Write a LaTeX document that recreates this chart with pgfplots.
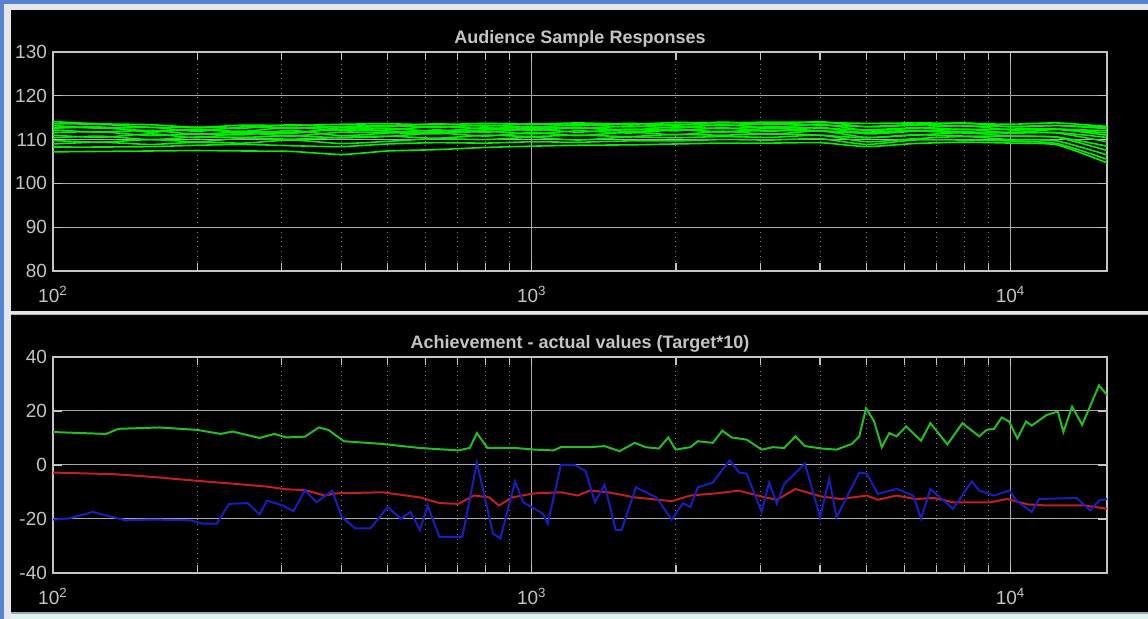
\documentclass[border=0pt]{standalone}
\usepackage{pgfplots}
\pgfplotsset{compat=1.18}
\usepackage{pgfplotstable}
\usepackage{fontspec}
\setmainfont{Liberation Sans}
\definecolor{txt}{HTML}{C4C4C4}
\definecolor{gridc}{HTML}{A8A8A8}
\definecolor{framec}{HTML}{C4C4C4}
\definecolor{topg}{HTML}{00F000}
\definecolor{botg}{HTML}{22BE22}
\definecolor{botr}{HTML}{C41E1E}
\definecolor{botb}{HTML}{1A1EBE}
\definecolor{winblue}{HTML}{5A80D2}
\definecolor{winlight}{HTML}{E4E8EA}
\definecolor{wincyan}{HTML}{DDF3F6}

\pgfplotstableread{
f l1 l2 l3 l4 l5 l6 l7 l8 l9 l10 l11 l12 l13
100 107.2 108.3 109.0 109.8 110.4 111.0 111.6 112.2 112.7 113.2 113.6 114.1 112.6
125 107.3 108.3 109.4 109.4 110.8 110.5 111.8 111.7 112.7 112.6 113.5 113.6 112.9
160 107.4 108.4 108.9 110.0 110.0 111.3 110.9 112.1 112.0 112.8 112.8 113.4 111.7
200 107.5 108.7 109.4 109.5 110.6 110.4 111.3 111.2 112.2 111.9 112.8 112.8 112.4
250 107.4 108.9 109.2 110.3 110.5 111.5 111.1 111.8 111.9 112.9 112.6 113.3 111.6
315 107.3 108.6 109.9 110.1 110.9 110.8 112.1 111.7 112.8 112.6 113.4 113.2 111.4
400 106.6 108.4 109.1 110.5 110.4 111.7 110.9 112.3 112.1 113.0 112.8 113.5 112.7
500 107.4 109.0 109.6 110.8 110.7 111.6 111.5 112.6 112.2 113.2 113.0 113.6 111.9
630 107.7 109.3 110.2 110.3 111.5 111.3 112.2 111.9 113.0 112.8 113.6 113.4 111.6
800 108.2 109.2 110.0 111.0 110.8 111.9 111.7 112.7 112.5 113.3 113.1 113.7 112.2
1000 108.5 109.5 110.5 110.7 111.6 111.3 112.4 112.1 113.0 112.8 113.6 113.5 112.5
1250 108.7 109.4 109.9 111.0 110.9 112.0 111.7 112.7 112.5 113.4 113.2 113.8 112.8
1600 108.8 109.7 110.6 110.7 111.7 111.5 112.4 112.2 113.1 112.9 113.7 113.5 111.8
2000 109.0 109.7 110.4 111.2 111.1 112.2 112.0 112.9 112.7 113.5 113.3 113.9 112.4
2500 109.2 110.0 110.7 111.0 111.9 111.8 112.7 112.5 113.4 113.2 114.0 113.8 111.7
3150 109.2 109.9 110.5 111.3 111.2 112.1 111.9 112.9 112.7 113.6 113.4 114.0 112.6
4000 109.3 110.2 111.0 111.0 112.0 111.9 112.8 112.6 113.5 113.3 114.1 113.9 112.0
5000 108.4 108.9 109.5 110.4 110.5 111.5 111.3 112.2 112.1 113.0 112.9 113.7 111.7
6300 109.1 109.9 110.2 111.1 111.0 112.0 111.9 112.7 112.6 113.4 113.3 113.8 112.1
8000 109.4 109.9 110.7 110.8 111.6 111.5 112.4 112.3 113.2 113.1 113.8 113.7 111.8
10000 109.2 109.7 110.0 110.8 110.8 111.7 111.5 112.4 112.2 113.0 112.9 113.5 111.5
12500 108.8 109.1 109.7 110.5 110.6 111.5 111.6 112.4 112.4 113.2 113.2 113.8 112.3
15900 104.7 105.5 106.5 107.5 108.5 109.5 110.5 111.5 112.0 112.5 112.8 113.0 111.0
}\toptable

\pgfplotstableread{
f v
100 12.2
129 11.5
137 13.4
167 13.9
200 13.0
224 11.5
237 12.4
270 10.0
290 11.5
307 10.2
336 10.5
359 13.9
376 13.0
405 8.8
487 7.8
584 6.3
702 5.4
742 6.3
768 11.8
808 6.3
923 6.3
1013 5.7
1110 5.4
1150 6.6
1321 6.6
1419 7.0
1525 5.1
1640 8.2
1730 6.6
1842 6.1
1928 10.2
1996 5.7
2144 6.6
2222 8.8
2388 8.2
2500 12.7
2614 10.2
2810 9.4
3020 5.7
3190 6.6
3365 6.3
3554 10.6
3718 7.0
4030 6.1
4330 5.7
4660 7.8
4830 10.6
4990 21.0
5190 16.1
5380 6.6
5580 11.8
5780 10.6
6050 14.3
6500 9.0
6800 15.5
7380 7.6
7930 15.5
8600 10.6
8910 13.0
9240 13.4
9580 17.6
9930 16.1
10330 9.8
10770 16.1
11070 14.6
11890 18.5
12550 19.8
12890 12.2
13440 21.6
14110 14.9
15300 29.5
15900 25.9
}\greentable

\pgfplotstableread{
f v
100 -2.8
134 -3.4
161 -4.4
201 -5.9
233 -6.8
280 -8.0
307 -9.0
336 -9.3
369 -11.3
390 -10.5
487 -10.1
584 -12.0
641 -14.1
702 -14.4
757 -11.3
815 -12.0
854 -15.0
910 -12.0
1013 -10.5
1150 -10.1
1247 -11.3
1321 -9.5
1445 -10.1
1640 -12.0
1960 -13.4
2144 -11.3
2430 -10.5
2710 -9.5
3020 -11.7
3250 -12.9
3554 -8.9
4030 -11.7
4420 -12.6
5010 -11.3
5280 -12.9
5780 -11.3
6320 -12.6
6920 -12.2
7580 -13.8
8300 -13.8
9070 -13.8
9840 -12.6
10870 -14.6
11890 -15.0
14240 -15.0
15900 -16.2
}\redtable

\pgfplotstableread{
f v
100 -20.2
108 -19.8
121 -17.4
142 -20.5
161 -20.2
194 -20.5
205 -21.7
220 -21.7
233 -14.4
255 -14.1
270 -18.3
280 -13.2
302 -15.0
318 -17.1
336 -9.3
355 -13.8
383 -9.5
401 -19.3
428 -23.5
460 -23.5
500 -15.6
533 -19.9
558 -17.4
584 -24.1
606 -15.0
641 -26.6
716 -26.6
768 0.9
830 -25.4
860 -27.2
923 -6.1
959 -13.8
1054 -18.0
1080 -21.7
1150 0.0
1230 0.0
1295 -2.2
1355 -13.8
1419 -7.3
1497 -24.1
1540 -24.1
1650 -8.3
1820 -12.0
1960 -20.2
2070 -14.1
2144 -15.6
2222 -8.3
2388 -6.5
2590 1.7
2710 -2.8
2810 -3.2
3020 -17.4
3130 -6.5
3250 -14.4
3365 -7.1
3720 0.5
4000 -19.3
4180 -5.2
4330 -19.3
4830 -2.8
5010 -3.2
5280 -10.7
5780 -8.9
6260 -11.3
6500 -19.9
6800 -8.9
7580 -16.2
8300 -6.1
8600 -9.5
9240 -11.3
9930 -9.5
10290 -13.2
11070 -17.4
11480 -12.6
13730 -12.2
14670 -16.8
15300 -13.2
15900 -12.6
}\bluetable

\pgfplotsset{
  mystyle/.style={
    scale only axis,
    anchor=south west,
    width=527pt,
    xmin=100, xmax=15900,
    xtick={100,1000,10000},
    xticklabels={10\textsuperscript{2},10\textsuperscript{3},10\textsuperscript{4}},
    minor xtick={200,300,400,500,600,700,800,900,2000,3000,4000,5000,6000,7000,8000,9000},
    grid=both,
    major grid style={solid, gridc, line width=0.5pt},
    minor grid style={dotted, gridc!75!black, line width=0.5pt},
    axis line style={framec, line width=0.7pt},
    tick style={framec, line width=0.6pt},
    major tick length=4.5pt,
    minor tick length=4pt,
    tick align=inside,
    /pgf/number format/assume math mode=true,
    ticklabel style={text=txt, font=\fontsize{9.5}{11}\selectfont},
    yticklabel style={xshift=0.5pt},
    xticklabel style={yshift=-4pt},
    title style={text=txt, font=\bfseries\fontsize{9}{10}\selectfont, yshift=-7pt},
    axis background/.style={fill=black},
  }
}

\begin{document}
\begin{tikzpicture}[x=0.5pt,y=0.5pt]
\useasboundingbox (0,0) rectangle (1148,619);
% window frame
\fill[wincyan] (0,0) rectangle (1148,619);
\fill[winblue] (0,0) rectangle (4,619);
\fill[winblue] (0,615) rectangle (1148,619);
\fill[winlight] (4,0) rectangle (11,615);
\fill[winlight] (4,609) rectangle (1148,615);
\fill[black] (11,7) rectangle (1148,609);
\fill[gray!70] (11,5) rectangle (1148,7);
% separator
\fill[winlight] (11,304) rectangle (1148,308);
\draw[gray!60, line width=0.5pt] (11,304) -- (1148,304);

\begin{semilogxaxis}[mystyle, at={(26.5pt,174pt)}, height=109.5pt,
  ymin=80, ymax=130, ytick={80,90,100,110,120,130},
  title={Audience Sample Responses}]
\pgfplotsinvokeforeach{1,...,13}{
  \addplot[topg, line width=0.8pt, smooth, tension=0.35] table[x=f, y=l#1] {\toptable};
}
\end{semilogxaxis}

\begin{semilogxaxis}[mystyle, at={(26.5pt,23pt)}, height=108pt,
  ymin=-40, ymax=40, ytick={-40,-20,0,20,40},
  title={Achievement - actual values (Target*10)}]
\addplot[botg, line width=1pt] table[x=f, y=v] {\greentable};
\addplot[botr, line width=1pt] table[x=f, y=v] {\redtable};
\addplot[botb, line width=1pt] table[x=f, y=v] {\bluetable};
\end{semilogxaxis}
\end{tikzpicture}
\end{document}
